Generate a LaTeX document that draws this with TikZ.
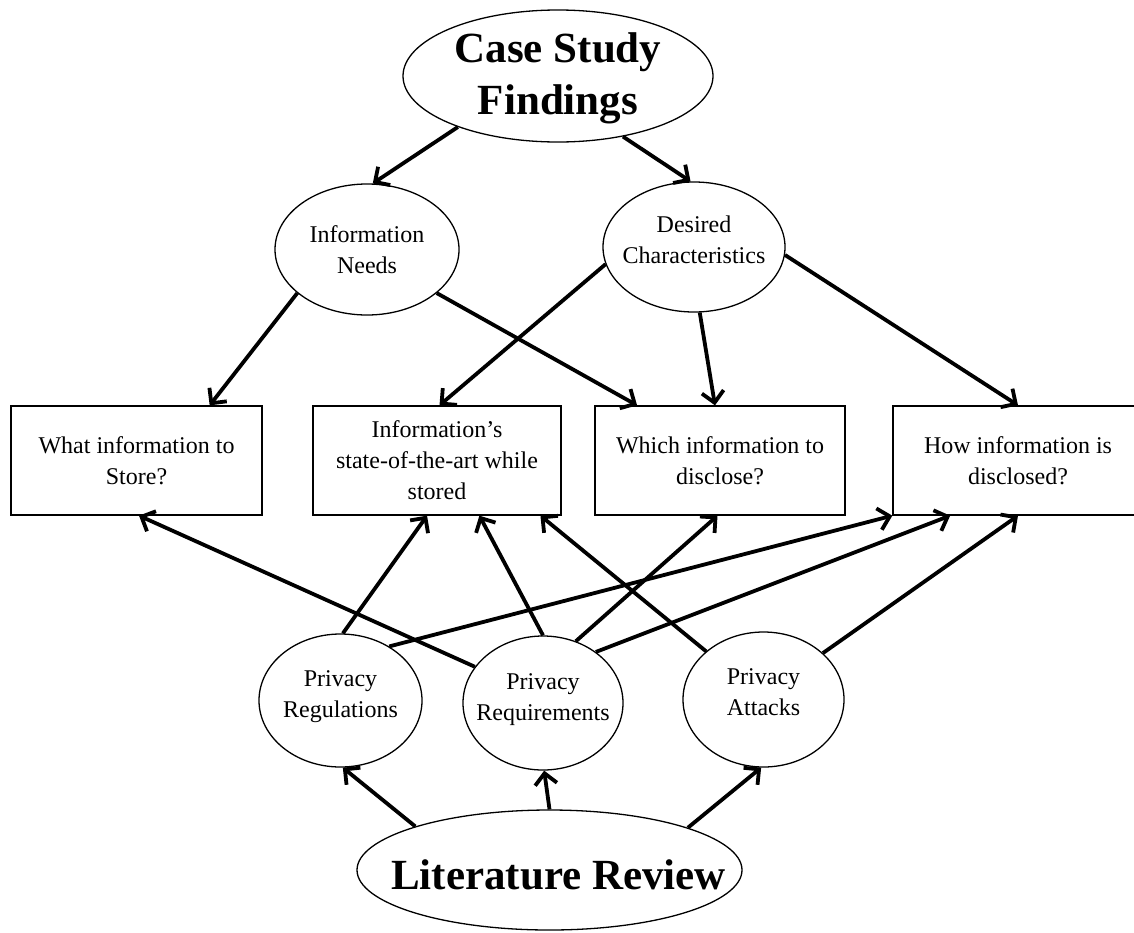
\documentclass[tikz,border=0pt]{standalone}
\usepackage{fontspec}
\setmainfont{Liberation Serif}
\usetikzlibrary{arrows.meta,calc,shapes.geometric}
\newcommand\txtdrop[1]{\rule[-#1]{0pt}{0pt}}
\newcommand\txtlift[1]{\rule{0pt}{#1}}
\begin{document}
\begin{tikzpicture}[x=1pt,y=-1pt,
  ell/.style={draw,ellipse,line width=1.3pt,inner xsep=-40pt,inner ysep=-20pt,align=center,font=\fontsize{24}{31}\selectfont},
  box/.style={draw,rectangle,line width=1.3pt,inner sep=0pt,align=center,minimum height=109pt,minimum width=250pt,font=\fontsize{24}{31}\selectfont},
  big/.style={draw,ellipse,line width=1.3pt,inner xsep=-40pt,inner ysep=-20pt,align=center,font=\fontsize{43}{52}\selectfont\bfseries},
  arr/.style={line width=3.8pt,-{Straight Barb[length=11pt,width=22pt]}}]
\useasboundingbox (0,0) rectangle (1134,932);
% top
\node[big,minimum width=310pt,minimum height=132pt] (csf) at (558,76) {\txtlift{35pt}Case Study\\Findings};
\node[ell,minimum width=184pt,minimum height=131pt] (in) at (367,249.5) {Information\\Needs};
\node[ell,minimum width=182pt,minimum height=130pt] (dc) at (694,247) {Desired\\Characteristics\txtdrop{14pt}};
% boxes
\node[box,minimum width=251pt] (r1) at (136.5,460.5) {What information to\\Store?};
\node[box,minimum width=248pt] (r2) at (437,460.5) {Information’s\\state-of-the-art while\\stored};
\node[box] (r3) at (720,460.5) {Which information to\\disclose?};
\node[box] (r4) at (1018,460.5) {How information is\\disclosed?};
% bottom ellipses
\node[ell,minimum width=163pt,minimum height=133pt] (preg) at (340.5,700.5) {Privacy\\Regulations\txtdrop{13pt}};
\node[ell,minimum width=160pt,minimum height=134pt] (preq) at (543,703) {Privacy\\Requirements\txtdrop{11pt}};
\node[ell,minimum width=161pt,minimum height=135pt] (patt) at (763.5,699.5) {Privacy\\Attacks\txtdrop{14pt}};
\node[big,minimum width=385pt,minimum height=120pt] (lr) at (549.5,870) {\makebox[0pt]{\hspace{18pt}\txtlift{40pt}Literature Review}};
% arrows from top
\draw[arr] (csf.207.2) -- (in.85.7);
\draw[arr] (csf.317.8) -- (dc.93.4);
\draw[arr] (in.212.3) -- ($(r1.north west)!0.79!(r1.north east)$);
\draw[arr] (in.328.5) -- ($(r3.north west)!0.17!(r3.north east)$);
\draw[arr] (dc.191.2) -- ($(r2.north west)!0.51!(r2.north east)$);
\draw[arr] (dc.275.3) -- ($(r3.north west)!0.48!(r3.north east)$);
\draw[arr] (dc.355) -- ($(r4.north west)!0.5!(r4.north east)$);
% arrows from bottom
\draw[arr] (preg.88.5) -- ($(r2.south west)!0.46!(r2.south east)$);
\draw[arr] (preg.48.9) -- (r4.south west);
\draw[arr] (preq.152.8) -- ($(r1.south west)!0.51!(r1.south east)$);
\draw[arr] (preq.90) -- ($(r2.south west)!0.67!(r2.south east)$);
\draw[arr] (preq.62.3) -- ($(r3.south west)!0.49!(r3.south east)$);
\draw[arr] (preq.44.4) -- ($(r4.south west)!0.23!(r4.south east)$);
\draw[arr] (patt.140.5) -- ($(r2.south west)!0.915!(r2.south east)$);
\draw[arr] (patt.38.5) -- ($(r4.south west)!0.5!(r4.south east)$);
% literature review
\draw[arr] (lr.162.7) -- (preg.272);
\draw[arr] (lr.90) -- (preq.271.7);
\draw[arr] (lr.17.2) -- (patt.268.7);
\end{tikzpicture}
\end{document}
